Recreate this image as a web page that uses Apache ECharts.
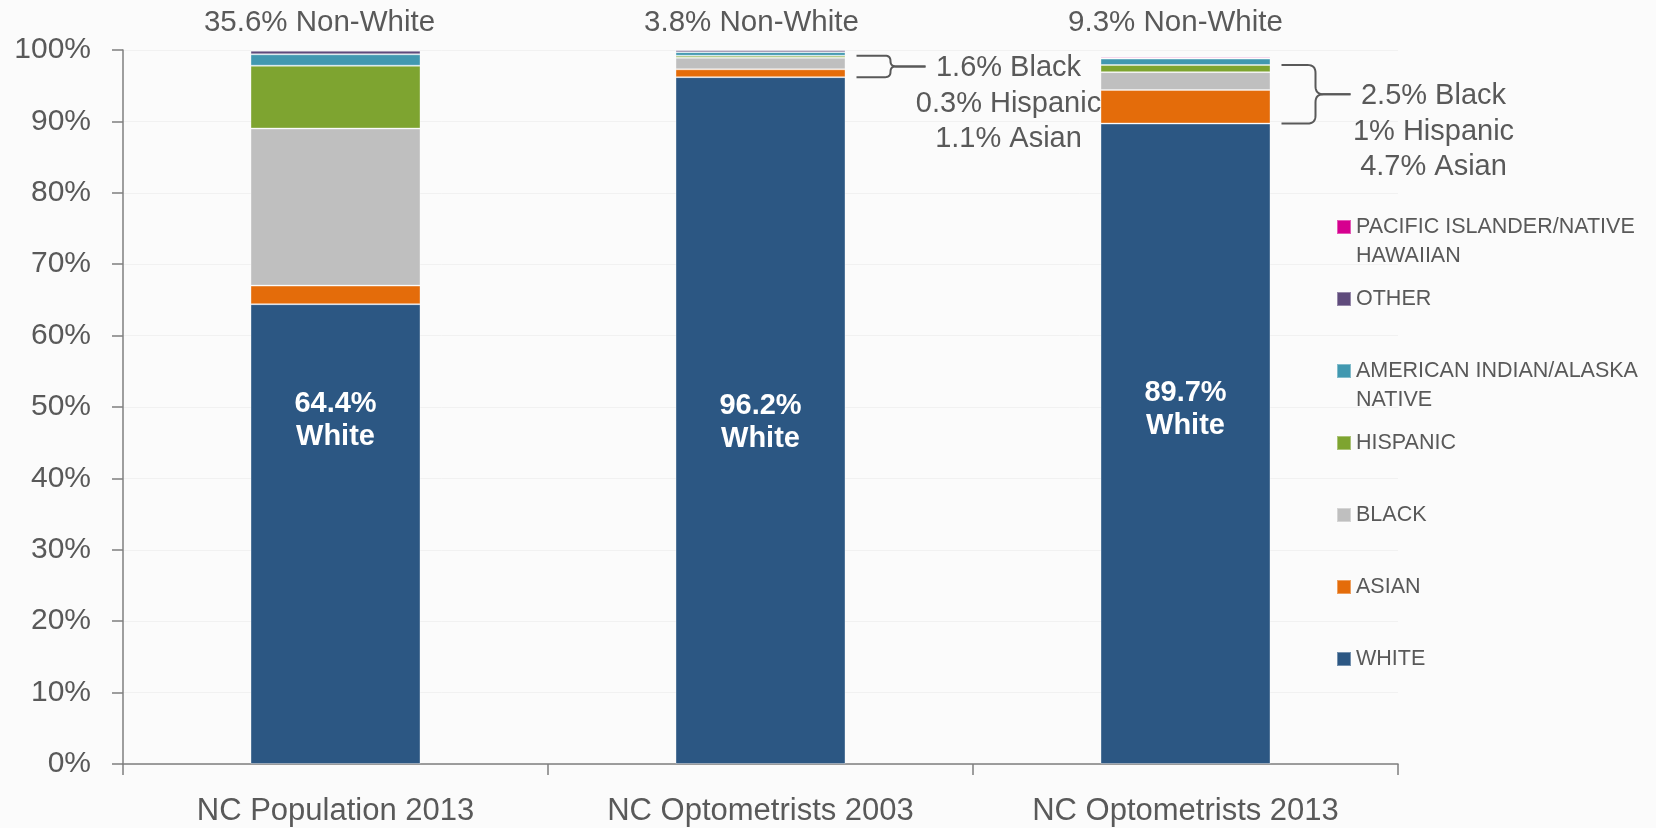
<!DOCTYPE html>
<html><head><meta charset="utf-8">
<script src="https://cdn.jsdelivr.net/npm/echarts@6/dist/echarts.min.js"></script>
<style>html,body{margin:0;padding:0;background:#fbfbfb}#c{width:1656px;height:828px}</style>
</head><body><div id="c"></div>
<script>
// ---- data ----
const categories = ['NC Population 2013', 'NC Optometrists 2003', 'NC Optometrists 2013'];
const white    = [64.4, 96.2, 89.7];
const asian    = [2.6, 1.1, 4.7];
const black    = [22.0, 1.6, 2.5];
const hispanic = [8.8, 0.3, 1.0];
const amIndian = [1.6, 0.5, 0.9];
const other    = [0.5, 0.3, 0.0];
const pacific  = [0.1, 0.0, 0.2];
const seriesNames = ['WHITE', 'ASIAN', 'BLACK', 'HISPANIC', 'AMERICAN INDIAN/ALASKA NATIVE', 'OTHER', 'PACIFIC ISLANDER/NATIVE HAWAIIAN'];
const legendLines = {
  'AMERICAN INDIAN/ALASKA NATIVE': ['AMERICAN INDIAN/ALASKA', 'NATIVE'],
  'PACIFIC ISLANDER/NATIVE HAWAIIAN': ['PACIFIC ISLANDER/NATIVE', 'HAWAIIAN']
};
const braceNotes = [null, ['1.6% Black', '0.3% Hispanic', '1.1% Asian'], ['2.5% Black', '1% Hispanic', '4.7% Asian']];
const yMin = 0, yMax = 100, yStep = 10;

// ---- style ----
const colors = ['#2C5783', '#E46C0A', '#BFBFBF', '#7EA430', '#4198B0', '#5F4B7C', '#D6008F'];
const values = [white, asian, black, hispanic, amIndian, other, pacific];
function fontAvailable(f) {
  const ctx = document.createElement('canvas').getContext('2d');
  const s = 'NC Optometrists 2003 HISPANIC 100%';
  ctx.font = '40px monospace'; const a = ctx.measureText(s).width;
  ctx.font = '40px "' + f + '", monospace'; const b = ctx.measureText(s).width;
  return Math.abs(a - b) > 0.5;
}
const narrow = fontAvailable('Liberation Sans Narrow');
const NF = narrow ? '"Liberation Sans Narrow", "Liberation Sans", Arial, sans-serif' : '"Liberation Sans", Arial, sans-serif';
const AF = '"Liberation Sans", Arial, sans-serif';
const yLabSize = narrow ? 36 : 30;
const xLabSize = narrow ? 37 : 31;
const legSize = narrow ? 26 : 21.5;
const legLH = 29;
const txtColor = '#595959';
const axisColor = '#7f7f7f';
const whiteLabelOffset = [[0, -114], [0, 2], [0, -34]];
const topLabelDx = [-16, -9, -10];

const chart = echarts.init(document.getElementById('c'), null, {renderer: 'canvas'});

const series = seriesNames.map((n, si) => ({
  name: n, type: 'bar', stack: 'total', barCategoryGap: '60%',
  itemStyle: {color: colors[si], borderColor: 'rgba(255,255,255,0.35)', borderWidth: 1},
  emphasis: {disabled: true},
  data: values[si].map((v, i) => si === 0 ? {
    value: v,
    label: {show: true, position: 'inside', offset: whiteLabelOffset[i],
      formatter: v.toFixed(1) + '%\nWhite', color: '#fff', fontWeight: 'bold',
      fontFamily: AF, fontSize: 29, lineHeight: 33}
  } : v)
}));

// legend: one component per item, top-to-bottom in reverse stacking order
const legendOrder = seriesNames.slice().reverse();
const legendCenters0 = 227, legendStep = 72;
const legends = legendOrder.map((n, i) => {
  const lines = legendLines[n] ? [' '].concat(legendLines[n]) : [n];
  const cy = legendCenters0 + i * legendStep;
  return {
    data: [n], orient: 'vertical', left: 1336, top: cy - lines.length * legLH / 2, padding: 0,
    icon: 'rect', itemWidth: 14, itemHeight: 14, selectedMode: false,
    formatter: () => lines.join('\n'),
    textStyle: {color: txtColor, fontFamily: NF, fontSize: legSize, lineHeight: legLH}
  };
});

chart.setOption({
  backgroundColor: '#fbfbfb',
  animation: false,
  grid: {left: 123, right: 258, top: 50, bottom: 64, containLabel: false},
  legend: legends,
  xAxis: {
    type: 'category', data: categories, boundaryGap: true,
    axisLine: {lineStyle: {color: axisColor, width: 1.5}},
    axisTick: {show: true, length: 11, lineStyle: {color: axisColor, width: 1.5}},
    axisLabel: {color: txtColor, fontFamily: NF, fontSize: xLabSize, margin: 32}
  },
  yAxis: {
    type: 'value', min: yMin, max: yMax, interval: yStep,
    axisLine: {show: true, lineStyle: {color: axisColor, width: 1.5}},
    axisTick: {show: true, length: 11, lineStyle: {color: axisColor, width: 1.5}},
    axisLabel: {color: txtColor, fontFamily: NF, fontSize: yLabSize, margin: 32, formatter: '{value}%'},
    splitLine: {show: true, lineStyle: {color: '#f1f1f1', width: 1}}
  },
  series: series
});

// ---- annotations positioned from data via the axes ----
function px(ci, v) { return chart.convertToPixel({xAxisIndex: 0, yAxisIndex: 0}, [ci, v]); }
const band = px(1, 0)[0] - px(0, 0)[0];
const halfBar = band * 0.4 / 2;
const graphics = [];
function quad(p0, c, p1, n) {
  const pts = [];
  for (let k = 1; k <= n; k++) {
    const t = k / n, u = 1 - t;
    pts.push([u*u*p0[0] + 2*u*t*c[0] + t*t*p1[0], u*u*p0[1] + 2*u*t*c[1] + t*t*p1[1]]);
  }
  return pts;
}
function bracePoints(x0, xc, xt, yA, ym, r) {
  const d = Math.sign(ym - yA);
  let pts = [[x0, yA], [xc - r, yA]];
  pts = pts.concat(quad([xc - r, yA], [xc, yA], [xc, yA + d * r], 8));
  pts.push([xc, ym - d * r]);
  pts = pts.concat(quad([xc, ym - d * r], [xc, ym], [xc + r, ym], 8));
  pts.push([xt, ym]);
  return pts;
}
categories.forEach((c, i) => {
  let nonWhite = 0;
  for (let s = 1; s < values.length; s++) nonWhite += values[s][i];
  const top = px(i, yMax);
  graphics.push({type: 'text', z: 100, x: top[0] + topLabelDx[i], y: top[1] - 27,
    style: {text: nonWhite.toFixed(1) + '% Non-White', align: 'center', verticalAlign: 'middle',
      fill: txtColor, font: '29.5px ' + AF}});
  if (braceNotes[i]) {
    const yBot = px(i, white[i])[1];
    const yTop = px(i, white[i] + asian[i] + black[i] + hispanic[i])[1];
    const ym = (yBot + yTop) / 2;
    const right = top[0] + halfBar;
    const x0 = right + 11, xc = right + 45, xt = right + 80;
    const r = Math.min(8, (yBot - yTop) / 4);
    graphics.push({type: 'polyline', z: 100, shape: {points: bracePoints(x0, xc, xt, yTop, ym, r)},
      style: {stroke: txtColor, lineWidth: 2, fill: null}});
    graphics.push({type: 'polyline', z: 100, shape: {points: bracePoints(x0, xc, xt, yBot, ym, r)},
      style: {stroke: txtColor, lineWidth: 2, fill: null}});
    graphics.push({type: 'text', z: 100, x: right + 163, y: ym - 17.75 + 2,
      style: {text: braceNotes[i].join('\n'), align: 'center', verticalAlign: 'top',
        lineHeight: 35.5, fill: txtColor, font: '29px ' + AF}});
  }
});
chart.setOption({graphic: graphics});
</script></body></html>
